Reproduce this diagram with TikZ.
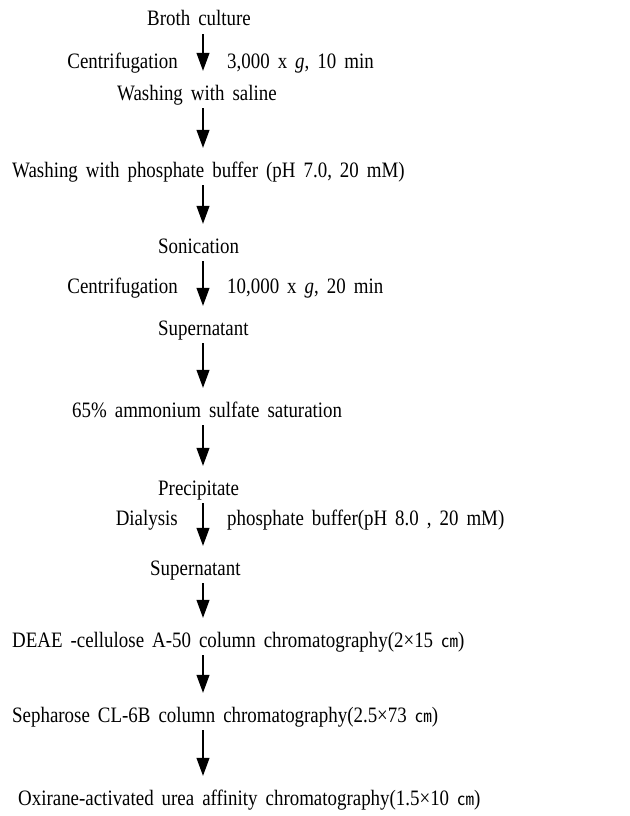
\documentclass[tikz,border=0pt]{standalone}
\usepackage{fontspec}
\setmainfont{Liberation Serif}[FakeStretch=0.86]
\newfontfamily\cjk{Noto Sans CJK KR}
\usetikzlibrary{arrows.meta}
\newcommand\stagefont{\fontsize{22}{26}\selectfont\spaceskip 8pt\relax}

\begin{document}
\begin{tikzpicture}[x=1pt,y=-1pt,
  every node/.style={inner sep=0pt,text height=16pt,text depth=5pt,font=\stagefont},
  flow/.style={line width=1.1pt,-{Triangle[length=18pt,width=13pt]},shorten <=3pt,shorten >=13pt}]
\useasboundingbox (0,0) rectangle (629,816);
\coordinate (ax) at (203,0);

\node[anchor=base west] (broth) at (147,26) {Broth culture};
\node[anchor=base east] (cent1) at (178,68) {Centrifugation};
\node[anchor=base west] (spin1) at (227,68) {3,000 x \textit{g}, 10 min};
\node[anchor=base west] (saline) at (117,100) {Washing with saline};
\node[anchor=base west] (phos) at (12,177) {Washing with phosphate buffer (pH 7.0, 20 mM)};
\node[anchor=base west] (sonic) at (158,253) {Sonication};
\node[anchor=base east] (cent2) at (178,293) {Centrifugation};
\node[anchor=base west] (spin2) at (227,293) {10,000 x \textit{g}, 20 min};
\node[anchor=base west] (super1) at (158,335) {Supernatant};
\node[anchor=base west] (ammon) at (72,417) {65\% ammonium sulfate saturation};
\node[anchor=base west] (precip) at (158,495) {Precipitate};
\node[anchor=base east] (dialy) at (178,525) {Dialysis};
\node[anchor=base west] (buffer) at (227,525) {phosphate buffer(pH 8.0 , 20 mM)};
\node[anchor=base west] (super2) at (150,575) {Supernatant};
\node[anchor=base west] (deae) at (12,647) {DEAE -cellulose A-50 column chromatography(2×15 {\cjk\fontsize{17}{20}\selectfont ㎝})};
\node[anchor=base west] (sepha) at (12,722) {Sepharose CL-6B column chromatography(2.5×73 {\cjk\fontsize{17}{20}\selectfont ㎝})};
\node[anchor=base west] (oxir) at (18,805) {Oxirane-activated urea affinity chromatography(1.5×10 {\cjk\fontsize{17}{20}\selectfont ㎝})};

\draw[flow] (broth.south -| ax) -- (saline.north -| ax);
\draw[flow] (saline.south -| ax) -- (phos.north -| ax);
\draw[flow] (phos.south -| ax) -- (sonic.north -| ax);
\draw[flow] (sonic.south -| ax) -- (super1.north -| ax);
\draw[flow] (super1.south -| ax) -- (ammon.north -| ax);
\draw[flow] (ammon.south -| ax) -- (precip.north -| ax);
\draw[flow] (precip.south -| ax) -- (super2.north -| ax);
\draw[flow] (super2.south -| ax) -- (deae.north -| ax);
\draw[flow] (deae.south -| ax) -- (sepha.north -| ax);
\draw[flow] (sepha.south -| ax) -- (oxir.north -| ax);
\end{tikzpicture}
\end{document}
